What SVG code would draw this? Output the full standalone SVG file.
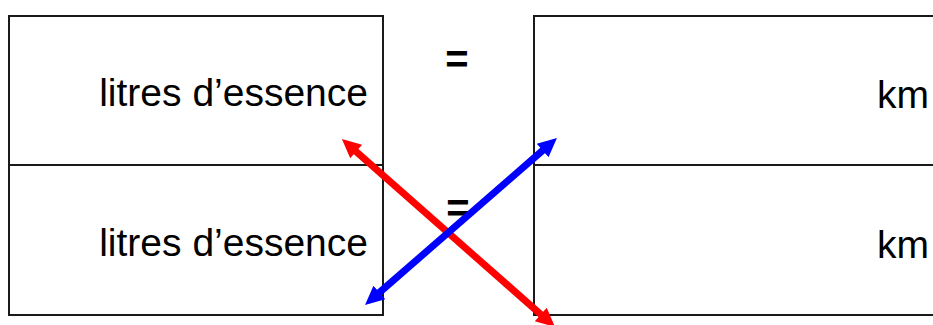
<svg xmlns="http://www.w3.org/2000/svg" width="933" height="325" viewBox="0 0 933 325">
<style>
.box{fill:#fff;stroke:#1a1a1a;stroke-width:2}
.lbl{font-family:"Liberation Sans",Arial,sans-serif;font-size:39px;fill:#000;text-anchor:end}
.eq{font-family:"Liberation Sans",Arial,sans-serif;font-size:40px;font-weight:bold;fill:#000;text-anchor:middle}
.arr{stroke-width:7;fill:none}
</style>
<defs>
<marker id="hr" markerUnits="userSpaceOnUse" markerWidth="22" markerHeight="22" refX="3" refY="9" orient="auto-start-reverse" viewBox="0 0 22 18">
<path d="M0,0 L19,9 L0,18 Z" fill="#ff0000"/>
</marker>
<marker id="hb" markerUnits="userSpaceOnUse" markerWidth="22" markerHeight="22" refX="3" refY="9" orient="auto-start-reverse" viewBox="0 0 22 18">
<path d="M0,0 L19,9 L0,18 Z" fill="#0000ff"/>
</marker>
</defs>
<rect width="933" height="325" fill="#fff"/>
<g id="left-top"><rect class="box" x="9" y="16" width="374" height="149"/><text class="lbl" x="368" y="106">litres d’essence</text></g>
<g id="left-bottom"><rect class="box" x="9" y="165" width="374" height="150"/><text class="lbl" x="368" y="256">litres d’essence</text></g>
<g id="right-top"><rect class="box" x="534" y="16" width="410" height="149"/><text class="lbl" x="929" y="108">km</text></g>
<g id="right-bottom"><rect class="box" x="534" y="165" width="410" height="150"/><text class="lbl" x="929" y="258">km</text></g>
<g id="eq-top"><text class="eq" x="457" y="73">=</text></g>
<g id="eq-bottom"><text class="eq" x="458" y="222">=</text></g>
<g id="connectors">
<line class="arr" stroke="#ff0000" x1="353.9" y1="149.6" x2="543" y2="316.4" marker-start="url(#hr)" marker-end="url(#hr)"/>
<line class="arr" stroke="#0000ff" x1="544.9" y1="148.5" x2="377.1" y2="294.5" marker-start="url(#hb)" marker-end="url(#hb)"/>
</g>
</svg>
